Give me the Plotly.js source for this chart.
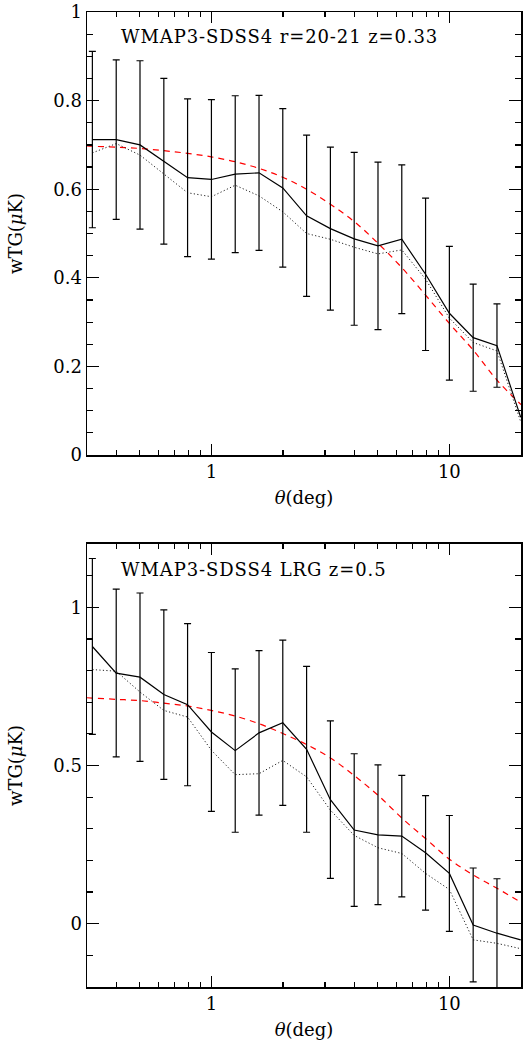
<!DOCTYPE html>
<html><head><meta charset="utf-8">
<script src="https://cdn.plot.ly/plotly-3.0.1.min.js"></script>
<style>html,body{margin:0;padding:0;background:#fff}#plot{width:523px;height:1042px}
.annotation-text{letter-spacing:0.9px}</style>
</head><body><div id="plot"></div>
<script>
// angular bins (deg)
const theta = [0.316,0.398,0.501,0.631,0.794,1.0,1.259,1.585,1.995,2.512,3.162,3.981,5.012,6.310,7.943,10.0,12.59,15.85,19.95];
// model curve sampling (deg)
const modelTheta = [0.30,0.316,0.398,0.501,0.631,0.794,1.0,1.259,1.585,1.995,2.512,3.162,3.981,5.012,6.310,7.943,10.0,12.59,15.85,20.0];

// Top panel: WMAP3-SDSS4 r=20-21 z=0.33
const topSolid  = [0.712,0.712,0.700,0.663,0.626,0.622,0.634,0.637,0.603,0.540,0.511,0.488,0.472,0.487,0.408,0.320,0.265,0.247,0.085];
const topDotted = [0.682,0.703,0.677,0.634,0.592,0.583,0.609,0.585,0.549,0.500,0.487,0.469,0.454,0.463,0.397,0.309,0.254,0.235,0.075];
const topModel  = [0.698,0.697,0.695,0.692,0.687,0.681,0.673,0.662,0.647,0.627,0.600,0.566,0.527,0.478,0.423,0.361,0.297,0.237,0.169,0.114];
const topErr    = [0.199,0.180,0.190,0.187,0.178,0.180,0.177,0.175,0.179,0.182,0.184,0.195,0.189,0.168,0.172,0.151,0.121,0.094];

// Bottom panel: WMAP3-SDSS4 LRG z=0.5
const botSolid  = [0.876,0.792,0.779,0.724,0.692,0.606,0.547,0.603,0.635,0.551,0.392,0.296,0.281,0.277,0.224,0.159,-0.004,-0.030,-0.051];
const botDotted = [0.803,0.798,0.732,0.674,0.653,0.548,0.471,0.474,0.516,0.464,0.359,0.279,0.240,0.222,0.159,0.108,-0.051,-0.062,-0.079];
const botModel  = [0.714,0.713,0.709,0.705,0.697,0.688,0.674,0.656,0.632,0.601,0.566,0.524,0.468,0.406,0.334,0.269,0.204,0.154,0.112,0.068];
const botErr    = [0.278,0.265,0.266,0.268,0.256,0.251,0.258,0.260,0.261,0.262,0.249,0.241,0.221,0.192,0.181,0.183,0.180,0.172];

const titles = ['WMAP3-SDSS4 r=20-21 z=0.33', 'WMAP3-SDSS4 LRG z=0.5'];
const xTickVals = [1,10];
const xTickText = ['1','10'];
const xMinorVals = [0.3,0.4,0.5,0.6,0.7,0.8,0.9,2,3,4,5,6,7,8,9,20];
const topYTicks = [0,0.2,0.4,0.6,0.8,1];
const topYText = ['0','0.2','0.4','0.6','0.8','1'];
const botYTicks = [0,0.5,1];
const botYText = ['0','0.5','1'];

const FONT = 'DejaVu Serif';
const nE = topErr.length;

function panel(solid, dotted, model, err, xa, ya) {
  return [
    {x: modelTheta, y: model, mode:'lines', line:{color:'#ff0000', width:1.2, dash:'6px,5px', shape:'spline'}, xaxis:xa, yaxis:ya, hoverinfo:'skip'},
    {x: theta, y: dotted, mode:'lines', line:{color:'#222', width:1, dash:'1.2px,2.3px'}, xaxis:xa, yaxis:ya, hoverinfo:'skip'},
    {x: theta, y: solid, mode:'lines', line:{color:'#000', width:1.2}, xaxis:xa, yaxis:ya},
    {x: theta.slice(0,nE), y: solid.slice(0,nE), mode:'markers', marker:{size:0.1, color:'rgba(0,0,0,0)'},
     error_y:{type:'data', array: err, visible:true, color:'#000', thickness:1.2, width:3.5}, xaxis:xa, yaxis:ya, hoverinfo:'skip'}
  ];
}

const data = [].concat(
  panel(topSolid, topDotted, topModel, topErr, 'x', 'y'),
  panel(botSolid, botDotted, botModel, botErr, 'x2', 'y2')
);

function xaxis(anchor) {
  return {
    type:'log', range:[Math.log10(0.3), Math.log10(20)], anchor: anchor,
    tickvals: xTickVals, ticktext: xTickText, ticks:'inside', ticklen:11, tickwidth:1.2, tickcolor:'#000',
    minor:{tickvals: xMinorVals, ticks:'inside', ticklen:5, tickwidth:1.2, tickcolor:'#000'},
    showline:true, linecolor:'#000', linewidth:1.5, mirror:'allticks', showgrid:false, zeroline:false,
    tickfont:{family:FONT, size:18, color:'#000'},
    title:{text:'<i>θ</i>(deg)', font:{family:FONT, size:18, color:'#000'}, standoff:10},
    domain:[0,1]
  };
}
function yaxis(anchor, range, minorD, domain, tickvals, ticktext) {
  return {
    range: range, anchor: anchor, domain: domain,
    tickvals: tickvals, ticktext: ticktext,
    ticks:'inside', ticklen:12, tickwidth:1.2, tickcolor:'#000',
    minor:{dtick:minorD, ticks:'inside', ticklen:6, tickwidth:1.2, tickcolor:'#000'},
    showline:true, linecolor:'#000', linewidth:1.5, mirror:'allticks', showgrid:false, zeroline:false,
    tickfont:{family:FONT, size:18, color:'#000'},
    title:{text:'wTG(<i>μ</i>K)', font:{family:FONT, size:18, color:'#000'}, standoff:26}
  };
}

const layout = {
  width:523, height:1042,
  margin:{l:87, r:2, t:12, b:55},
  paper_bgcolor:'#fff', plot_bgcolor:'#fff',
  showlegend:false,
  xaxis: xaxis('y'),
  yaxis: yaxis('x', [0,1], 0.05, [0.5456,1], topYTicks, topYText),
  xaxis2: xaxis('y2'),
  yaxis2: yaxis('x2', [-0.2,1.2], 0.1, [0,0.4544], botYTicks, botYText),
  annotations:[
    {xref:'paper', yref:'paper', x:0.0737, y:0.975, xanchor:'left', yanchor:'middle', showarrow:false,
     text: titles[0], font:{family:FONT, size:18, color:'#000'}},
    {xref:'paper', yref:'paper', x:0.0737, y:0.4287, xanchor:'left', yanchor:'middle', showarrow:false,
     text: titles[1], font:{family:FONT, size:18, color:'#000'}}
  ]
};

Plotly.newPlot('plot', data, layout, {staticPlot:true, displayModeBar:false});
</script>
</body></html>
